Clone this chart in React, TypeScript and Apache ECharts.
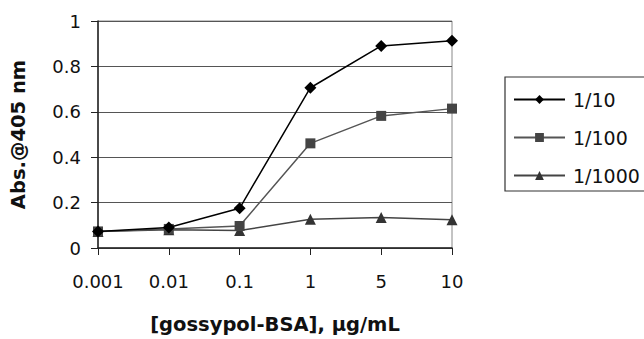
import React, { useEffect, useRef } from "react";
import * as echarts from "echarts";

const categories = ["0.001", "0.01", "0.1", "1", "5", "10"];
const s10 = [0.073, 0.09, 0.175, 0.706, 0.89, 0.913];
const s100 = [0.073, 0.084, 0.097, 0.461, 0.582, 0.614];
const s1000 = [0.073, 0.08, 0.077, 0.127, 0.134, 0.124];
const seriesNames = ["1/10", "1/100", "1/1000"];
const yTicks = [0, 0.2, 0.4, 0.6, 0.8, 1];

const FONT = "'DejaVu Sans', Arial, sans-serif";

export default function App() {
  const ref = useRef<HTMLDivElement>(null);
  useEffect(() => {
    if (!ref.current) return;
    const chart = echarts.init(ref.current, undefined, { renderer: "svg" });
    chart.setOption({
      animation: false,
      backgroundColor: "#ffffff",
      textStyle: { fontFamily: FONT },
      grid: {
        left: 97,
        top: 21,
        right: 192,
        bottom: 89,
        show: true,
        borderColor: "#888",
        borderWidth: 1,
      },
      xAxis: {
        type: "category",
        data: categories,
        boundaryGap: false,
        name: "[gossypol-BSA], μg/mL",
        nameLocation: "middle",
        nameGap: 66,
        nameTextStyle: { fontFamily: FONT, fontSize: 19.5, fontWeight: "bold", color: "#111" },
        axisLine: { lineStyle: { color: "#222", width: 1.5 } },
        axisTick: { show: true, length: 7, inside: false, lineStyle: { color: "#222" } },
        axisLabel: { fontFamily: FONT, fontSize: 18, color: "#111", margin: 24 },
        splitLine: { show: false },
      },
      yAxis: {
        type: "value",
        min: yTicks[0],
        max: yTicks[yTicks.length - 1],
        interval: 0.2,
        name: "Abs.@405 nm",
        nameLocation: "middle",
        nameGap: 70,
        nameRotate: 90,
        nameTextStyle: { fontFamily: FONT, fontSize: 19.5, fontWeight: "bold", color: "#111" },
        axisLine: { show: true, lineStyle: { color: "#222", width: 1.5 } },
        axisTick: { show: true, length: 7, lineStyle: { color: "#222" } },
        axisLabel: {
          fontFamily: FONT,
          fontSize: 18,
          color: "#111",
          margin: 17,
          formatter: (v: number) => (v === 0 ? "0" : v === 1 ? "1" : String(+v.toFixed(1))),
        },
        splitLine: { show: true, lineStyle: { color: "#555", width: 1 } },
      },
      legend: {
        orient: "vertical",
        left: 513,
        top: 89,
        padding: 0,
        itemWidth: 51,
        itemHeight: 11,
        itemGap: 17,
        textStyle: { fontFamily: FONT, fontSize: 19, color: "#111", lineHeight: 21, padding: [0, 0, 0, 3] },
        data: seriesNames,
      },
      graphic: [
        {
          type: "rect",
          shape: { x: 505, y: 77, width: 160, height: 114 },
          style: { fill: "none", stroke: "#333", lineWidth: 1.2 },
          silent: true,
        },
      ],
      series: [
        {
          name: seriesNames[0],
          type: "line",
          data: s10,
          symbol: "diamond",
          symbolSize: 12,
          showAllSymbol: true,
          lineStyle: { color: "#000", width: 1.5 },
          itemStyle: { color: "#000" },
          z: 3,
        },
        {
          name: seriesNames[1],
          type: "line",
          data: s100,
          symbol: "rect",
          symbolSize: 10,
          showAllSymbol: true,
          lineStyle: { color: "#555", width: 1.5 },
          itemStyle: { color: "#444" },
          z: 2,
        },
        {
          name: seriesNames[2],
          type: "line",
          data: s1000,
          symbol: "triangle",
          symbolSize: 11,
          showAllSymbol: true,
          lineStyle: { color: "#444", width: 1.5 },
          itemStyle: { color: "#333" },
          z: 1,
        },
      ],
    });
    return () => chart.dispose();
  }, []);
  return <div ref={ref} style={{ width: 644, height: 339, position: "absolute", left: 0, top: 0 }} />;
}
